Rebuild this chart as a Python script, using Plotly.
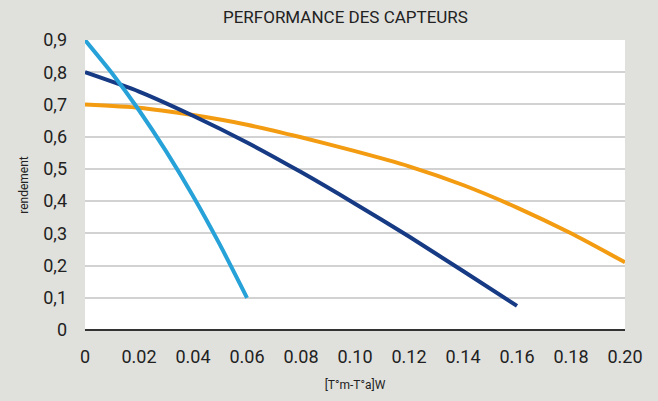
import plotly.graph_objects as go

# Collector efficiency curves: efficiency vs reduced temperature difference
x_light = [0.0, 0.01, 0.02, 0.03, 0.04, 0.05, 0.06]
eff_light = [0.90, 0.797, 0.682, 0.555, 0.416, 0.264, 0.10]

x_dark = [0.0, 0.02, 0.04, 0.06, 0.08, 0.10, 0.12, 0.14, 0.16]
eff_dark = [0.80, 0.74, 0.665, 0.582, 0.49, 0.392, 0.29, 0.183, 0.075]

x_orange = [0.0, 0.02, 0.04, 0.06, 0.08, 0.10, 0.12, 0.14, 0.16, 0.18, 0.20]
eff_orange = [0.70, 0.69, 0.667, 0.637, 0.598, 0.555, 0.508, 0.45, 0.38, 0.30, 0.21]

x_ticks = [0, 0.02, 0.04, 0.06, 0.08, 0.10, 0.12, 0.14, 0.16, 0.18, 0.20]
x_tick_labels = ["0", "0.02", "0.04", "0.06", "0.08", "0.10", "0.12", "0.14", "0.16", "0.18", "0.20"]
y_ticks = [0, 0.1, 0.2, 0.3, 0.4, 0.5, 0.6, 0.7, 0.8, 0.9]
y_tick_labels = ["0", "0,1", "0,2", "0,3", "0,4", "0,5", "0,6", "0,7", "0,8", "0,9"]

FONT = "Roboto"
BG = "#e0e0dc"
TXT = "#222222"

fig = go.Figure()
for xs, ys, color in [
    (x_orange, eff_orange, "#f39c12"),
    (x_dark, eff_dark, "#163a84"),
    (x_light, eff_light, "#27a2d8"),
]:
    fig.add_trace(go.Scatter(
        x=xs, y=ys, mode="lines",
        line=dict(color=color, width=4, shape="spline", smoothing=0.6),
        cliponaxis=False, showlegend=False, hoverinfo="skip",
    ))

fig.update_layout(
    width=658, height=401,
    margin=dict(l=85, r=33, t=40, b=71),
    paper_bgcolor=BG, plot_bgcolor="white",
    font=dict(family=FONT, color=TXT),
    title=dict(text="PERFORMANCE DES CAPTEURS", x=0.525, xanchor="center",
               y=0.958, yanchor="middle", font=dict(size=17, family=FONT, color=TXT)),
    xaxis=dict(
        range=[0, 0.2], tickvals=x_ticks, ticktext=x_tick_labels,
        showgrid=False, zeroline=False, showline=False, ticks="",
        ticklabelstandoff=14,
        tickfont=dict(size=18, family=FONT, color=TXT),
        title=dict(text="[T°m-T°a]W", font=dict(size=12, family=FONT, color=TXT), standoff=14),
    ),
    yaxis=dict(
        range=[0, 0.9], tickvals=y_ticks, ticktext=y_tick_labels,
        showgrid=True, gridcolor="#d2d2d2", gridwidth=1.5,
        zeroline=True, zerolinecolor="#333333", zerolinewidth=2,
        showline=False, ticks="", ticklabelstandoff=17,
        tickfont=dict(size=18, family=FONT, color=TXT),
        title=dict(text="rendement", font=dict(size=12, family=FONT, color=TXT), standoff=12),
    ),
)

fig.write_html("out.html")
